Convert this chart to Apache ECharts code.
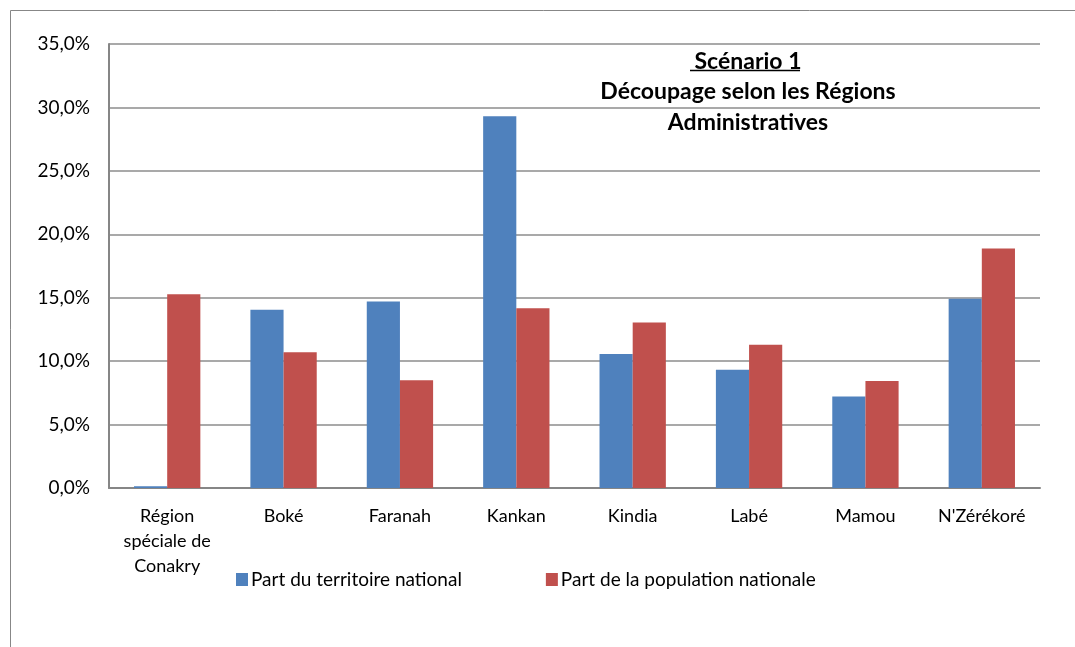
<!DOCTYPE html>
<html>
<head>
<meta charset="utf-8">
<script src="https://cdn.jsdelivr.net/npm/echarts@6/dist/echarts.min.js"></script>
<style>
html,body{margin:0;padding:0;background:#fff;}
#main{width:1075px;height:647px;}
</style>
</head>
<body>
<div id="main"></div>
<script>
const categories = ["Région\nspéciale de\nConakry", "Boké", "Faranah", "Kankan", "Kindia", "Labé", "Mamou", "N'Zérékoré"];
const territoire = [0.13, 14.05, 14.7, 29.3, 10.57, 9.33, 7.22, 14.92];
const population = [15.27, 10.7, 8.5, 14.16, 13.05, 11.3, 8.43, 18.88];
const seriesNames = ["Part du territoire national", "Part de la population nationale"];
const yTicks = { min: 0, max: 35, interval: 5 };

const FONT = "Lato, 'Open Sans', sans-serif";
const chart = echarts.init(document.getElementById('main'), null, { renderer: 'canvas' });
chart.setOption({
  animation: false,
  backgroundColor: '#fff',
  textStyle: { fontFamily: FONT },
  title: {
    text: 'Scénario 1\nDécoupage selon les Régions\nAdministratives',
    left: 743, top: 41, textAlign: 'center',
    textStyle: { fontFamily: FONT, fontWeight: 'bold', fontSize: 23, lineHeight: 30.5, color: '#000' }
  },
  graphic: [
    { type: 'rect', shape: { x: 10.5, y: 10.5, width: 1200, height: 800 }, style: { fill: null, stroke: '#878787', lineWidth: 1 }, silent: true, z: -10 },
    { type: 'line', shape: { x1: 690, y1: 70.5, x2: 800, y2: 70.5 }, style: { stroke: '#000', lineWidth: 1.5 }, silent: true }
  ],
  legend: {
    left: 236, top: 570, padding: 0,
    itemWidth: 12, itemHeight: 13, itemGap: 84,
    icon: 'rect',
    textStyle: { fontFamily: FONT, fontSize: 19, color: '#000', padding: [0, 0, 0, -2] },
    data: seriesNames
  },
  grid: { left: 109, right: 35, top: 44, bottom: 159, containLabel: false },
  xAxis: {
    type: 'category', data: categories,
    axisLine: { lineStyle: { color: '#868686', width: 2 } },
    axisTick: { show: false },
    axisLabel: { color: '#000', fontSize: 18, lineHeight: 25, margin: 16, interval: 0, fontFamily: FONT }
  },
  yAxis: {
    type: 'value', min: yTicks.min, max: yTicks.max, interval: yTicks.interval,
    axisLine: { show: true, lineStyle: { color: '#868686', width: 2 } },
    axisTick: { show: false },
    splitLine: { lineStyle: { color: '#8c8c8c', width: 1.5 } },
    axisLabel: { color: '#000', fontSize: 19, margin: 19, fontFamily: FONT,
      formatter: v => v.toFixed(1).replace('.', ',') + '%' }
  },
  series: [
    { name: seriesNames[0], type: 'bar', data: territoire, itemStyle: { color: '#4F81BD' }, barGap: '0%', barCategoryGap: '43%' },
    { name: seriesNames[1], type: 'bar', data: population, itemStyle: { color: '#C0504D' }, barGap: '0%', barCategoryGap: '43%' }
  ]
});
</script>
</body>
</html>
